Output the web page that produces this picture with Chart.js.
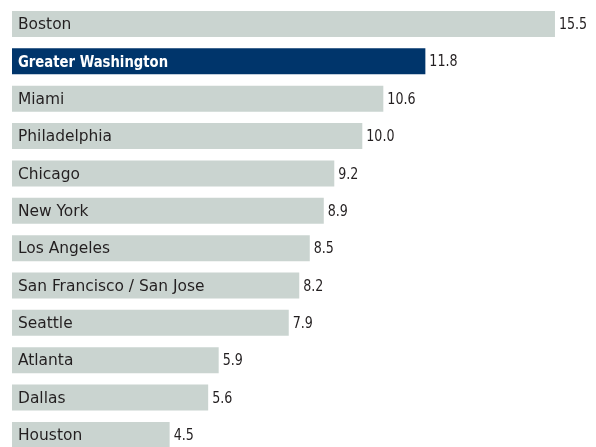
<!DOCTYPE html>
<html>
<head>
<meta charset="utf-8">
<script src="https://cdn.jsdelivr.net/npm/chart.js@4/dist/chart.umd.min.js"></script>
<style>
html,body{margin:0;padding:0;background:#fff;overflow:hidden;}
#wrap{position:relative;width:596px;height:460px;}
</style>
</head>
<body>
<div id="wrap"><canvas id="c" width="596" height="460"></canvas></div>
<script>
const categories = ["Boston","Greater Washington","Miami","Philadelphia","Chicago","New York","Los Angeles","San Francisco / San Jose","Seattle","Atlanta","Dallas","Houston"];
const values = [15.5,11.8,10.6,10.0,9.2,8.9,8.5,8.2,7.9,5.9,5.6,4.5];
const valueLabels = ["15.5","11.8","10.6","10.0","9.2","8.9","8.5","8.2","7.9","5.9","5.6","4.5"];
const highlight = "Greater Washington";

const GRAY = "#cad4d0", NAVY = "#00356b";
const FONT = "'DejaVu Sans Condensed','Liberation Sans',sans-serif";

function drawScaled(ctx, text, x, y, font, sx) {
  ctx.save();
  ctx.font = font;
  ctx.translate(x, y);
  ctx.scale(sx, 1);
  ctx.fillText(text, 0, 0);
  ctx.restore();
}

const labelPlugin = {
  id: 'labels',
  afterDatasetsDraw(chart) {
    const ctx = chart.ctx;
    const meta = chart.getDatasetMeta(0);
    ctx.save();
    ctx.textBaseline = 'middle';
    ctx.textAlign = 'left';
    meta.data.forEach((bar, i) => {
      const hl = categories[i] === highlight;
      ctx.fillStyle = hl ? '#ffffff' : '#231f20';
      if (hl) drawScaled(ctx, categories[i], bar.base + 6, bar.y + 1, 'bold 16.5px ' + FONT, 0.89);
      else drawScaled(ctx, categories[i], bar.base + 6, bar.y + 1, '16.5px ' + FONT, 1.04);
      ctx.fillStyle = '#231f20';
      drawScaled(ctx, valueLabels[i], bar.x + 4, bar.y + 1, '16px ' + FONT, 0.88);
    });
    ctx.restore();
  }
};

new Chart(document.getElementById('c'), {
  type: 'bar',
  data: {
    labels: categories,
    datasets: [{
      data: values,
      backgroundColor: categories.map(c => c === highlight ? NAVY : GRAY),
      borderWidth: 0,
      barPercentage: 0.696,
      categoryPercentage: 1.0
    }]
  },
  options: {
    indexAxis: 'y',
    responsive: false,
    animation: false,
    layout: { padding: { left: 12, right: 0, top: 5.3, bottom: 6.4 } },
    plugins: { legend: { display: false }, tooltip: { enabled: false } },
    scales: {
      x: { display: false, min: 0, max: 16.671 },
      y: { display: false }
    }
  },
  plugins: [labelPlugin]
});
</script>
</body>
</html>
